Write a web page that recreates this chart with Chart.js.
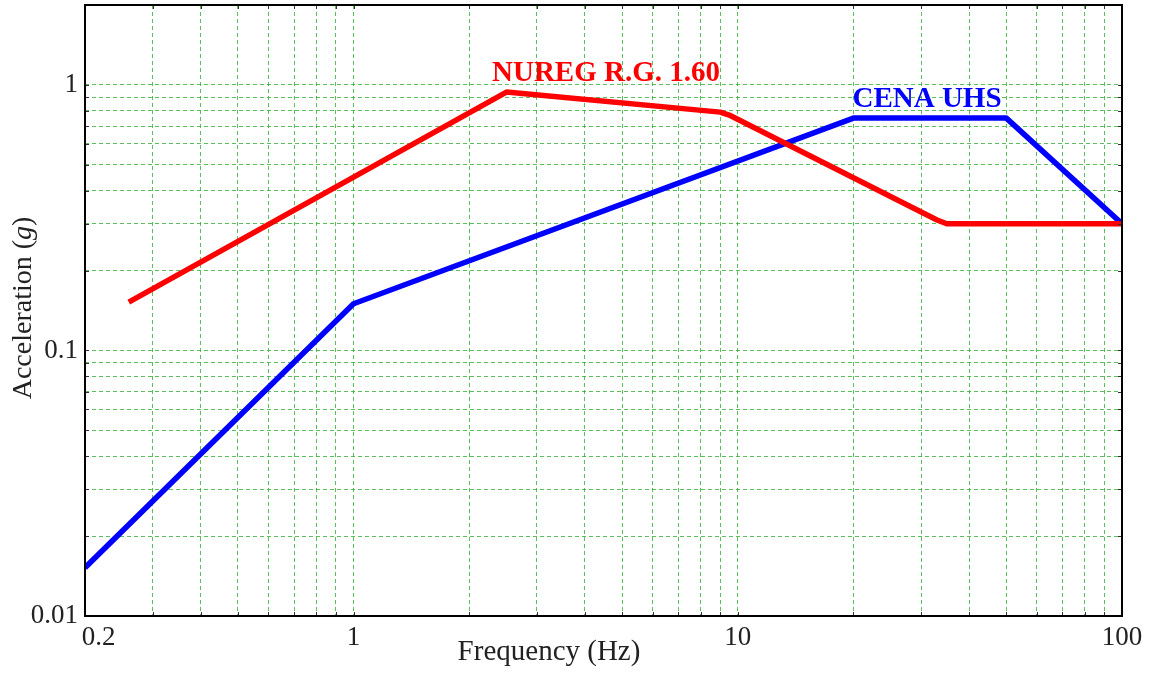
<!DOCTYPE html>
<html>
<head>
<meta charset="utf-8">
<script src="https://cdn.jsdelivr.net/npm/chart.js@4"></script>
<style>
  html, body { margin: 0; padding: 0; background: #fff; }
  #wrap { width: 1150px; height: 673px; }
</style>
</head>
<body>
<div id="wrap"><canvas id="grafico-espectro"></canvas></div>
<script>
// data (log-log)
const nuregFreq = [0.26, 2.5, 9.0, 9.5, 33, 35, 100];
const nuregAcc  = [0.152, 0.94, 0.79, 0.77, 0.31, 0.30, 0.30];
const cenaFreq  = [0.2, 1, 20, 50, 100];
const cenaAcc   = [0.0152, 0.15, 0.75, 0.75, 0.30];

const xGrid = [0.2, 0.3, 0.4, 0.5, 0.6, 0.7, 0.8, 0.9, 1, 2, 3, 4, 5, 6, 7, 8, 9,
               10, 20, 30, 40, 50, 60, 70, 80, 90, 100];
const yGrid = [0.01, 0.02, 0.03, 0.04, 0.05, 0.06, 0.07, 0.08, 0.09,
               0.1, 0.2, 0.3, 0.4, 0.5, 0.6, 0.7, 0.8, 0.9, 1, 2];
const xLabels = { 0.2: '\u2007\u20070.2', 1: '1', 10: '10', 100: '100' };
const yLabels = { 0.01: '0.01', 0.1: '0.1', 1: '1' };

const serif = "'Liberation Serif', 'DejaVu Serif', serif";
const gridColor = 'rgba(50, 175, 50, 0.8)';

const puntos = (xs, ys) => xs.map((x, i) => ({ x: x, y: ys[i] }));

const decoraciones = {
  id: 'decoraciones',
  afterDraw(chart) {
    const { ctx, chartArea: a, scales } = chart;
    ctx.save();
    // small ticks inward
    ctx.strokeStyle = '#333';
    ctx.lineWidth = 1;
    ctx.beginPath();
    xGrid.forEach(v => {
      const px = Math.round(scales.x.getPixelForValue(v)) + 0.5;
      ctx.moveTo(px, a.bottom); ctx.lineTo(px, a.bottom - 4);
      ctx.moveTo(px, a.top); ctx.lineTo(px, a.top + 4);
    });
    yGrid.forEach(v => {
      const py = Math.round(scales.y.getPixelForValue(v)) + 0.5;
      ctx.moveTo(a.left, py); ctx.lineTo(a.left + 4, py);
      ctx.moveTo(a.right, py); ctx.lineTo(a.right - 4, py);
    });
    ctx.stroke();
    // frame
    ctx.strokeStyle = '#000';
    ctx.lineWidth = 2;
    ctx.strokeRect(a.left, a.top, a.right - a.left, a.bottom - a.top);

    // series labels
    ctx.font = 'bold 29px ' + serif;
    ctx.textAlign = 'center';
    ctx.textBaseline = 'alphabetic';
    ctx.fillStyle = '#ff0000';
    ctx.fillText('NUREG R.G. 1.60', 606, 81);
    ctx.fillStyle = '#0000ff';
    ctx.fillText('CENA UHS', 927, 107);

    // axis titles
    ctx.fillStyle = '#222';
    ctx.font = '29px ' + serif;
    ctx.fillText('Frequency (Hz)', 549, 660);

    ctx.translate(31, 308);
    ctx.rotate(-Math.PI / 2);
    const p1 = 'Acceleration (', p2 = 'g', p3 = ')';
    ctx.font = '28px ' + serif;
    const w1 = ctx.measureText(p1).width, w3 = ctx.measureText(p3).width;
    ctx.font = 'italic 28px ' + serif;
    const w2 = ctx.measureText(p2).width;
    let x0 = -(w1 + w2 + w3) / 2;
    ctx.textAlign = 'left';
    ctx.font = '28px ' + serif;
    ctx.fillText(p1, x0, 0);
    ctx.font = 'italic 28px ' + serif;
    ctx.fillText(p2, x0 + w1, 0);
    ctx.font = '28px ' + serif;
    ctx.fillText(p3, x0 + w1 + w2, 0);
    ctx.restore();
  }
};

const ctx = document.getElementById('grafico-espectro');
new Chart(ctx, {
  type: 'line',
  data: {
    datasets: [{
      label: 'NUREG R.G. 1.60',
      data: puntos(nuregFreq, nuregAcc),
      borderColor: '#ff0000',
      borderWidth: 5.5,
      pointRadius: 0,
      borderJoinStyle: 'round',
      fill: false
    }, {
      label: 'CENA UHS',
      data: puntos(cenaFreq, cenaAcc),
      borderColor: '#0000ff',
      borderWidth: 5.5,
      pointRadius: 0,
      borderJoinStyle: 'round',
      fill: false
    }]
  },
  options: {
    responsive: true,
    maintainAspectRatio: false,
    animation: false,
    layout: { padding: { top: 5, right: 28, left: 0, bottom: 0 } },
    plugins: {
      legend: { display: false },
      tooltip: { enabled: false }
    },
    scales: {
      x: {
        type: 'logarithmic',
        min: 0.2,
        max: 100,
        afterBuildTicks: s => { s.ticks = xGrid.map(v => ({ value: v })); },
        afterFit: s => { s.height = 57; },
        grid: { color: gridColor, lineWidth: 1, drawTicks: false },
        border: { display: false, dash: [4, 3] },
        ticks: {
          autoSkip: false,
          maxRotation: 0,
          padding: 6,
          color: '#222',
          font: { family: serif, size: 27 },
          callback: v => xLabels[v] || ''
        }
      },
      y: {
        type: 'logarithmic',
        min: 0.01,
        max: 2,
        afterBuildTicks: s => { s.ticks = yGrid.map(v => ({ value: v })); },
        afterFit: s => { s.width = 85; s.paddingTop = 0; s.paddingBottom = 0; },
        grid: { color: gridColor, lineWidth: 1, drawTicks: false },
        border: { display: false, dash: [4, 3] },
        ticks: {
          autoSkip: false,
          padding: 7,
          color: '#222',
          font: { family: serif, size: 27 },
          callback: v => yLabels[v] || ''
        }
      }
    }
  },
  plugins: [decoraciones]
});
</script>
</body>
</html>
